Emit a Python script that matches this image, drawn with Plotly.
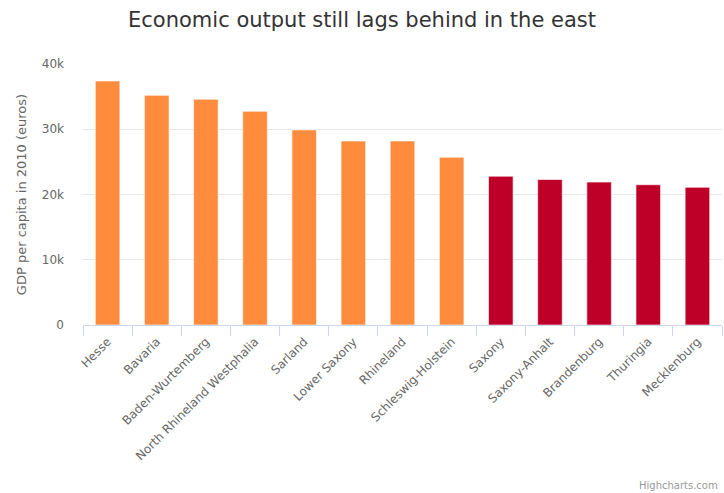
import plotly.graph_objects as go

states = ["Hesse", "Bavaria", "Baden-Wurtemberg", "North Rhineland Westphalia", "Sarland",
          "Lower Saxony", "Rhineland", "Schleswig-Holstein", "Saxony", "Saxony-Anhalt",
          "Brandenburg", "Thuringia", "Mecklenburg"]
gdp = [37400, 35200, 34600, 32750, 29900, 28200, 28200, 25700, 22800, 22300, 21900, 21500, 21100]
region = ["west"] * 8 + ["east"] * 5
region_colors = {"west": "#FF8C3D", "east": "#BE0029"}
tick_vals = [0, 10000, 20000, 30000, 40000]
tick_text = ["0", "10k", "20k", "30k", "40k"]

FONT = "DejaVu Sans"

fig = go.Figure(go.Bar(
    x=states, y=gdp,
    marker=dict(color=[region_colors[r] for r in region], line=dict(color="rgba(255,255,255,0.6)", width=1)),
    width=0.5,
))

fig.update_layout(
    width=724, height=493,
    margin=dict(l=83, r=2, t=64, b=168),
    paper_bgcolor="white", plot_bgcolor="white",
    showlegend=False,
    font=dict(family=FONT, color="#666666", size=11),
    title=dict(text="Economic output still lags behind in the east", x=0.5, xanchor="center",
               y=1 - 20 / 493, yanchor="middle", font=dict(family=FONT, size=21, color="#333333")),
    bargap=0.5,
)
fig.update_xaxes(
    tickangle=-45, showline=True, linecolor="#ccd6eb", linewidth=1,
    ticks="outside", tickson="boundaries", ticklen=10, tickcolor="#ccd6eb",
    showgrid=False, tickfont=dict(size=12, color="#666666"), ticklabelstandoff=4,
)
fig.update_yaxes(
    range=[0, 40000], tickvals=tick_vals, ticktext=tick_text,
    showgrid=True, gridcolor="#e6e6e6", gridwidth=1, zeroline=False, showline=False,
    ticks="", ticklabelstandoff=18, tickfont=dict(size=12, color="#666666"),
    title=dict(text="GDP per capita in 2010 (euros)", font=dict(size=13, color="#666666"), standoff=12),
)
fig.add_annotation(text="Highcharts.com", xref="paper", yref="paper", x=1.0, y=0,
                   xanchor="right", yanchor="middle", yshift=-160, xshift=-2, showarrow=False,
                   font=dict(family=FONT, size=10, color="#999999"))

fig.write_html("out.html", config={"displayModeBar": False},
               post_script="document.body.style.margin='0';")
